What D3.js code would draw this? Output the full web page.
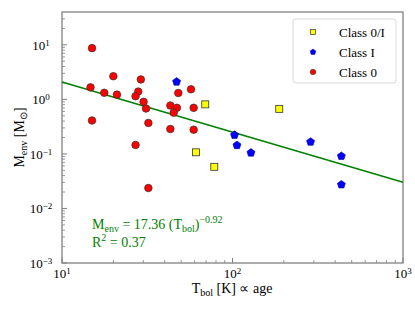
<!DOCTYPE html>
<meta charset="utf-8">
<style>
body { margin: 0; background: #fff; }
svg, svg text { font-family: "Liberation Serif", "Times New Roman", serif; }
.spine { stroke: #808080; stroke-width: 1.3; fill: none; }
</style>
<body>
<div id="chart"></div>
<script src="https://cdn.jsdelivr.net/npm/d3@7"></script>
<script>
// Tbol [K] and Menv [Msun] per class
var class0I_T = [69.2, 61.1, 78.2, 188];
var class0I_M = [0.81, 0.107, 0.058, 0.67];

var classI_T = [47.0, 102.8, 106.2, 128.3, 287, 435, 435];
var classI_M = [2.10, 0.222, 0.144, 0.105, 0.166, 0.091, 0.0274];

var class0_T = [15.0, 14.7, 15.0, 17.7, 20.0, 21.0, 29.0, 28.0, 27.0, 30.1, 31.1,
                32.1, 27.0, 32.1, 48.1, 57.1, 43.2, 47.2, 45.2, 59.2, 43.2, 59.2];
var class0_M = [8.7, 1.66, 0.41, 1.32, 2.66, 1.22, 2.32, 1.39, 1.14, 0.90, 0.68,
                0.37, 0.146, 0.0237, 1.31, 1.53, 0.77, 0.70, 0.57, 0.70, 0.286, 0.278];

// fit: Menv = A * Tbol^k
var fitA = 17.36, fitK = -0.92, fitR2 = 0.37;

var xTicks = [10, 100, 1000];
var yTicks = [1e-3, 1e-2, 1e-1, 1, 10];

var W = 415, H = 311;
var margin = {top: 12, right: 12, bottom: 48, left: 62};
var serif = "'Liberation Serif', 'Times New Roman', serif";

var svg = d3.select("#chart").append("svg")
    .attr("width", W)
    .attr("height", H)
    .attr("font-family", serif);

var x = d3.scaleLog().domain([10, 1000]).range([margin.left, W - margin.right]);
var y = d3.scaleLog().domain([1e-3, 40]).range([H - margin.bottom, margin.top]);

function pow10(g, v) {
  var e = Math.round(Math.log10(v));
  g.text("10");
  g.append("tspan").attr("dy", "-0.45em").style("font-size", "9px").text(e < 0 ? "\u2212" + (-e) : e);
}

// minor ticks
function minors(domain) {
  var out = [];
  for (var d = Math.floor(Math.log10(domain[0])); d < Math.ceil(Math.log10(domain[1])); d++)
    for (var m = 2; m < 10; m++) {
      var v = m * Math.pow(10, d);
      if (v > domain[0] && v < domain[1]) out.push(v);
    }
  return out;
}

var xAxis = svg.append("g").attr("transform", "translate(0," + (H - margin.bottom) + ")");
xAxis.selectAll(".major").data(xTicks).enter().append("line")
    .attr("x1", x).attr("x2", x).attr("y1", 0).attr("y2", -5)
    .attr("stroke", "#808080").attr("stroke-width", 1);
xAxis.selectAll(".minor").data(minors(x.domain())).enter().append("line")
    .attr("x1", x).attr("x2", x).attr("y1", 0).attr("y2", -3)
    .attr("stroke", "#808080").attr("stroke-width", 0.8);
xAxis.selectAll("text").data(xTicks).enter().append("text")
    .attr("x", x).attr("y", 15)
    .attr("text-anchor", "middle")
    .style("font-size", "13px")
    .each(function(d) { pow10(d3.select(this), d); });

var yAxis = svg.append("g").attr("transform", "translate(" + margin.left + ",0)");
yAxis.selectAll(".major").data(yTicks).enter().append("line")
    .attr("y1", y).attr("y2", y).attr("x1", 0).attr("x2", 5)
    .attr("stroke", "#808080").attr("stroke-width", 1);
yAxis.selectAll(".minor").data(minors(y.domain())).enter().append("line")
    .attr("y1", y).attr("y2", y).attr("x1", 0).attr("x2", 3)
    .attr("stroke", "#808080").attr("stroke-width", 0.8);
yAxis.selectAll("text").data(yTicks).enter().append("text")
    .attr("x", -21).attr("y", function(d) { return y(d) + 5; })
    .attr("text-anchor", "middle")
    .style("font-size", "13px")
    .each(function(d) { pow10(d3.select(this), d); });

// spines
svg.append("rect").attr("class", "spine")
    .attr("x", margin.left).attr("y", margin.top)
    .attr("width", W - margin.left - margin.right)
    .attr("height", H - margin.top - margin.bottom);

// fit line
var fitT = x.domain();
svg.append("line")
    .attr("x1", x(fitT[0])).attr("y1", y(fitA * Math.pow(fitT[0], fitK)))
    .attr("x2", x(fitT[1])).attr("y2", y(fitA * Math.pow(fitT[1], fitK)))
    .attr("stroke", "#008000").attr("stroke-width", 1.5);

function pentagon(r) {
  var p = [];
  for (var i = 0; i < 5; i++) {
    var a = -Math.PI / 2 + i * 2 * Math.PI / 5;
    p.push([r * Math.cos(a), r * Math.sin(a)]);
  }
  return "M" + p.join("L") + "Z";
}

var plot = svg.append("g");

plot.selectAll(".c0i").data(d3.zip(class0I_T, class0I_M)).enter().append("rect")
    .attr("x", function(d) { return x(d[0]) - 3.5; })
    .attr("y", function(d) { return y(d[1]) - 3.5; })
    .attr("width", 7).attr("height", 7)
    .attr("fill", "#ffff00").attr("stroke", "#333").attr("stroke-width", 0.8);

plot.selectAll(".c1").data(d3.zip(classI_T, classI_M)).enter().append("path")
    .attr("d", pentagon(4.2))
    .attr("transform", function(d) { return "translate(" + x(d[0]) + "," + y(d[1]) + ")"; })
    .attr("fill", "#0000ff").attr("stroke", "#00008b").attr("stroke-width", 0.6);

plot.selectAll(".c0").data(d3.zip(class0_T, class0_M)).enter().append("circle")
    .attr("cx", function(d) { return x(d[0]); })
    .attr("cy", function(d) { return y(d[1]); })
    .attr("r", 3.8)
    .attr("fill", "#ff0000").attr("stroke", "#333").attr("stroke-width", 0.7);

// fit annotation
var eq = svg.append("text").attr("x", 92).attr("y", 229)
    .attr("fill", "#008000").style("font-size", "14px");
eq.append("tspan").text("M");
eq.append("tspan").attr("dy", 3).style("font-size", "10px").text("env");
eq.append("tspan").attr("dy", -3).text(" = " + fitA.toFixed(2) + " (T");
eq.append("tspan").attr("dy", 3).style("font-size", "10px").text("bol");
eq.append("tspan").attr("dy", -3).text(")");
eq.append("tspan").attr("dy", -6).style("font-size", "10px").text("\u2212" + Math.abs(fitK).toFixed(2));

var r2 = svg.append("text").attr("x", 92).attr("y", 246.5)
    .attr("fill", "#008000").style("font-size", "14px");
r2.append("tspan").text("R");
r2.append("tspan").attr("dy", -6).style("font-size", "10px").text("2");
r2.append("tspan").attr("dy", 6).text(" = " + fitR2.toFixed(2));

// axis labels
var xl = svg.append("text").attr("x", 232).attr("y", 293)
    .attr("text-anchor", "middle").style("font-size", "14px");
xl.append("tspan").text("T");
xl.append("tspan").attr("dy", 3).style("font-size", "10px").text("bol");
xl.append("tspan").attr("dy", -3).text(" [K] \u221d age");

var yl = svg.append("text")
    .attr("transform", "translate(24," + ((margin.top + H - margin.bottom) / 2) + ") rotate(-90)")
    .attr("text-anchor", "middle").style("font-size", "14px");
yl.append("tspan").text("M");
yl.append("tspan").attr("dy", 3).style("font-size", "10px").text("env");
yl.append("tspan").attr("dy", -3).text(" [M");
yl.append("tspan").attr("dy", 3).style("font-size", "10px").text("\u2299");
yl.append("tspan").attr("dy", -3).text("]");

// legend
var legend = svg.append("g");
legend.append("rect")
    .attr("x", 293).attr("y", 19).attr("width", 103).attr("height", 64)
    .attr("rx", 3).attr("fill", "#fff").attr("fill-opacity", 0.8)
    .attr("stroke", "#d9d9d9").attr("stroke-width", 1);
var names = ["Class 0/I", "Class I", "Class 0"];
var items = legend.selectAll(".item").data(names).enter().append("g")
    .attr("transform", function(d, i) { return "translate(313," + (32 + i * 20) + ")"; });
items.each(function(d, i) {
  var g = d3.select(this);
  if (i === 0) g.append("rect").attr("x", -2.5).attr("y", -2.5).attr("width", 5).attr("height", 5)
      .attr("fill", "#ffff00").attr("stroke", "#333").attr("stroke-width", 0.7);
  else if (i === 1) g.append("path").attr("d", pentagon(3)).attr("fill", "#0000ff")
      .attr("stroke", "#00008b").attr("stroke-width", 0.5);
  else g.append("circle").attr("r", 2.8).attr("fill", "#ff0000")
      .attr("stroke", "#333").attr("stroke-width", 0.5);
});
items.append("text").attr("x", 26).attr("y", 4.5)
    .style("font-size", "13px").text(function(d) { return d; });
</script>
</body>
